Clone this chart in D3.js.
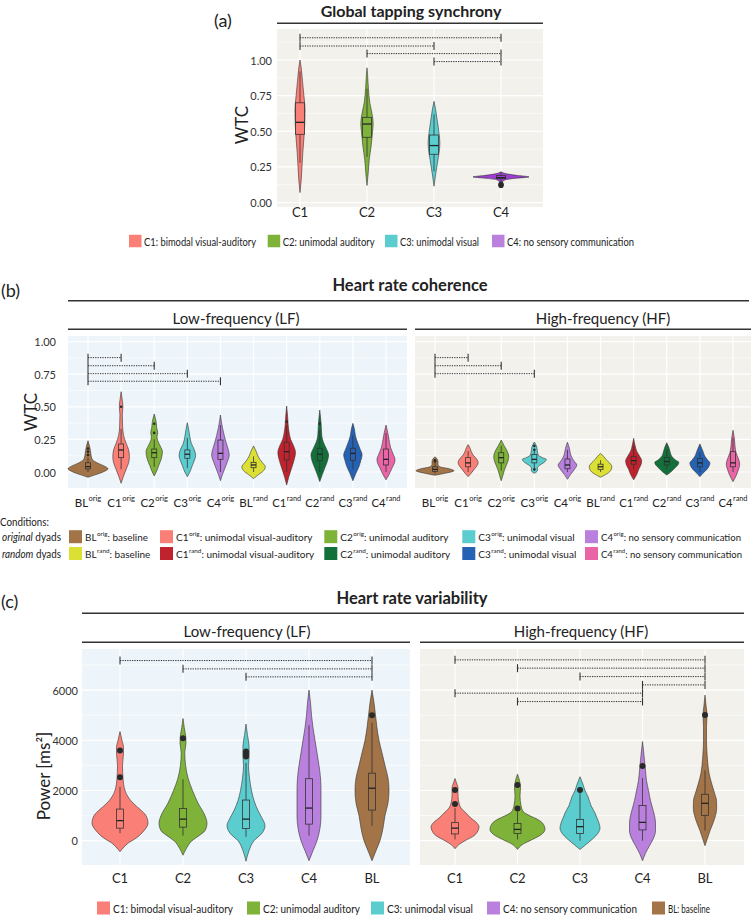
<!DOCTYPE html>
<html><head><meta charset="utf-8">
<script src="https://cdn.jsdelivr.net/npm/d3@7"></script>
<style>body{margin:0;background:#fff}svg{display:block;font-family:Lato,'Open Sans',sans-serif}</style>
</head><body><svg id="c" width="751" height="916"></svg>
<script>
// ---------------- DATA ----------------
// (a) Global tapping synchrony
const tapCategories = ["C1","C2","C3","C4"];
const tapTicks = [0, 0.25, 0.5, 0.75, 1.0];
const tapMinor = [0.125, 0.375, 0.625, 0.875, 1.125];
// density profiles: [value, relative density]
const tapDensity = [
  [[0.07,0],[0.15,0.04],[0.25,0.07],[0.35,0.1],[0.45,0.14],[0.55,0.17],[0.65,0.18],[0.75,0.14],[0.85,0.09],[0.95,0.04],[1.0,0]],
  [[0.12,0],[0.2,0.04],[0.3,0.08],[0.4,0.15],[0.5,0.2],[0.55,0.22],[0.6,0.2],[0.7,0.1],[0.8,0.05],[0.9,0.02],[0.945,0]],
  [[0.115,0],[0.2,0.06],[0.3,0.14],[0.38,0.2],[0.42,0.21],[0.5,0.17],[0.57,0.12],[0.65,0.06],[0.71,0]],
  [[0.11,0],[0.12,0.04],[0.14,0.04],[0.16,0.15],[0.17,0.5],[0.18,1],[0.19,0.6],[0.2,0.25],[0.217,0]]
];
// boxes: [lower whisker, q1, median, q3, upper whisker]
const tapBoxes = [[0.28,0.479,0.563,0.70,0.92],[0.32,0.458,0.551,0.598,0.80],[0.22,0.339,0.40,0.474,0.62],[0.15,0.168,0.175,0.19,0.21]];
const tapOutliers = [[],[],[],[0.12,0.125,0.13]];
const tapBrackets = [["C1","C4",1.156],["C1","C3",1.098],["C2","C4",1.045],["C3","C4",0.989]];
const tapLegend = ["C1: bimodal visual-auditory","C2: unimodal auditory","C3: unimodal visual","C4: no sensory communication"];

// (b) Heart rate coherence
const hrcCategories = ["BLo","C1o","C2o","C3o","C4o","BLr","C1r","C2r","C3r","C4r"];
const hrcLabelBase = ["BL","C1","C2","C3","C4","BL","C1","C2","C3","C4"];
const hrcLabelSup = ["orig","orig","orig","orig","orig","rand","rand","rand","rand","rand"];
const hrcTicks = [0, 0.25, 0.5, 0.75, 1.0];
const hrcMinor = [-0.125, 0.125, 0.375, 0.625, 0.875];
const hrcLFDensity = [
  [[-0.04,0],[-0.02,8],[0,15],[0.025,20],[0.05,15],[0.075,8],[0.1,4],[0.13,3],[0.16,2.5],[0.2,1.5],[0.24,0]],
  [[-0.087,0],[-0.04,2],[0.02,5],[0.07,7.5],[0.117,8.3],[0.17,7.5],[0.22,5],[0.28,2.5],[0.35,1.5],[0.44,1.2],[0.5,1.8],[0.56,1],[0.616,0]],
  [[-0.03,0],[0,2],[0.05,4.5],[0.1,7],[0.156,8.2],[0.2,6],[0.24,3.5],[0.27,2.8],[0.3,3.5],[0.34,2.5],[0.38,2],[0.445,0]],
  [[-0.036,0],[0,2.5],[0.05,5],[0.1,7.5],[0.125,8.3],[0.17,7],[0.22,4],[0.27,2.5],[0.32,1.5],[0.378,0]],
  [[-0.067,0],[-0.02,2],[0.03,4.5],[0.08,7],[0.13,8.8],[0.18,7.5],[0.23,5.5],[0.28,3.8],[0.34,2],[0.437,0]],
  [[-0.05,0],[-0.02,5],[0.01,10],[0.04,11.7],[0.07,9],[0.1,6],[0.13,4],[0.16,2.5],[0.2,0]],
  [[-0.1,0],[-0.04,2],[0.02,4.5],[0.08,7],[0.15,8.8],[0.2,7],[0.25,4],[0.3,2.5],[0.36,1.5],[0.42,1],[0.506,0]],
  [[-0.074,0],[-0.02,2.5],[0.03,5],[0.08,7.5],[0.13,8.8],[0.18,6.5],[0.23,3.5],[0.28,2],[0.35,1.5],[0.4,1],[0.475,0]],
  [[-0.067,0],[-0.01,3],[0.04,6],[0.09,8],[0.13,9.2],[0.18,7],[0.23,4.5],[0.28,2.5],[0.33,1.5],[0.373,0]],
  [[-0.06,0],[-0.02,3],[0.03,6],[0.07,8.5],[0.097,9],[0.14,7],[0.19,4.5],[0.25,3],[0.3,1.8],[0.36,0]]
];
const hrcLFBoxes = [[0,0.023,0.041,0.071,0.11],[0.02,0.11,0.169,0.215,0.33],[0.04,0.11,0.148,0.176,0.25],[0.03,0.105,0.136,0.169,0.26],[0,0.097,0.143,0.245,0.36],[0,0.033,0.054,0.074,0.12],[0,0.092,0.156,0.228,0.36],[0,0.087,0.136,0.182,0.32],[0.02,0.09,0.143,0.182,0.28],[0,0.054,0.097,0.176,0.30]];
const hrcLFOutliers = [[0.13,0.156,0.18],[0.5],[0.30,0.37],[],[],[],[0.386],[0.37],[],[]];
const hrcHFDensity = [
  [[-0.025,0],[-0.01,10],[0.01,19],[0.025,14],[0.04,5],[0.06,3],[0.08,3],[0.1,2],[0.117,0]],
  [[-0.036,0],[-0.01,3],[0.02,6],[0.05,9],[0.07,10],[0.1,8.5],[0.13,5],[0.16,3],[0.19,1.5],[0.21,0]],
  [[-0.067,0],[-0.03,1.5],[0.01,3],[0.05,5],[0.09,7],[0.117,7.5],[0.16,6],[0.2,3],[0.245,0]],
  [[-0.01,0],[0.01,3],[0.03,3],[0.05,5],[0.075,10],[0.097,12],[0.11,8],[0.13,4],[0.16,3],[0.19,2.5],[0.23,0]],
  [[-0.056,0],[-0.02,3],[0.02,7],[0.054,9.3],[0.08,7],[0.11,4.5],[0.14,3],[0.18,2],[0.228,0]],
  [[-0.04,0],[-0.02,5],[0.01,10],[0.04,11.3],[0.07,9],[0.1,5],[0.12,3],[0.143,0]],
  [[-0.06,0],[-0.02,3],[0.02,5],[0.06,7.5],[0.087,8],[0.12,6],[0.16,3],[0.2,1.5],[0.258,0]],
  [[-0.023,0],[0,4],[0.03,8],[0.06,11.5],[0.075,12],[0.09,9],[0.12,5],[0.15,3.5],[0.19,2],[0.225,0]],
  [[-0.036,0],[-0.01,3],[0.02,7],[0.05,9.5],[0.07,10],[0.09,8],[0.12,5],[0.16,3],[0.215,0]],
  [[-0.074,0],[-0.03,3],[0.02,5.5],[0.06,6.7],[0.1,5.5],[0.15,3],[0.2,2],[0.26,1.3],[0.32,0]]
];
const hrcHFBoxes = [[-0.01,0.005,0.02,0.04,0.07],[0,0.04,0.07,0.11,0.16],[0.01,0.07,0.11,0.148,0.2],[0.03,0.07,0.097,0.135,0.16],[0,0.025,0.054,0.1,0.17],[0,0.02,0.04,0.06,0.09],[0.02,0.06,0.087,0.117,0.2],[0.02,0.054,0.08,0.112,0.17],[0,0.04,0.07,0.104,0.15],[0,0.04,0.07,0.156,0.26]];
const hrcHFOutliers = [[0.08,0.09],[],[],[0.02,0.17,0.2],[],[],[],[],[],[]];
const hrcLFBrackets = [["BLo","C1o",0.877],["BLo","C2o",0.815],["BLo","C3o",0.754],["BLo","C4o",0.696]];
const hrcHFBrackets = [["BLo","C1o",0.877],["BLo","C2o",0.815],["BLo","C3o",0.754]];
const hrcLegendRows = ["original","random"];
const hrcLegendText = [": baseline",": unimodal visual-auditory",": unimodal auditory",": unimodal visual",": no sensory communication"];

// (c) Heart rate variability
const hrvCategories = ["C1","C2","C3","C4","BL"];
const hrvTicks = [0, 2000, 4000, 6000];
const hrvMinor = [-1000, 1000, 3000, 5000, 7000];
const hrvLFDensity = [
  [[-440,0],[-250,4],[-100,8],[100,16],[400,24],[700,28],[1000,26],[1250,20],[1500,13],[1750,8],[2000,5],[2500,3],[3000,2.5],[3500,3.5],[3700,3.5],[4000,2],[4350,0]],
  [[-580,0],[-300,3.5],[0,9],[200,16],[400,22],[700,24],[1000,22],[1500,15],[2000,9.5],[2500,5],[3000,2.6],[3500,1.8],[3900,3],[4200,2.6],[4500,1.3],[4870,0]],
  [[-820,0],[-400,3],[0,8],[300,16],[600,19],[900,16],[1200,12],[1600,8],[2000,5.5],[2500,3.5],[3000,2.5],[3400,3.2],[3800,3],[4200,1.5],[4650,0]],
  [[-800,0],[-400,4],[0,8],[500,11],[1000,12],[1500,12],[2000,12],[2500,11.5],[3000,10],[3500,8],[4000,6],[4500,4],[5000,2.5],[5500,1.5],[6000,0]],
  [[-800,0],[-400,4],[0,8],[500,11],[1000,13],[1500,16],[2000,17],[2500,16],[3000,13],[3500,10],[4000,7],[4500,5],[5000,3.5],[5500,2],[6000,0]]
];
const hrvLFBoxes = [[300,500,800,1260,2150],[200,540,860,1280,2450],[150,490,860,1620,3100],[200,660,1300,2470,4600],[590,1220,2090,2690,4700]];
const hrvLFOutliers = [[2530,3590],[4080],[3350,3450,3550],[],[5000]];
const hrvHFDensity = [
  [[-320,0],[-150,4],[0,10],[200,19],[400,23],[550,24],[700,22],[900,16],[1100,11],[1300,6],[1500,4],[1800,3],[2100,3],[2300,1.5],[2480,0]],
  [[-350,0],[-150,5],[50,15],[250,24],[450,27.5],[650,26],[850,20],[1000,12],[1150,6],[1400,3.5],[1800,2.5],[2100,3],[2400,2],[2650,0]],
  [[-350,0],[-150,6],[50,12],[300,18],[500,20],[700,19],[900,17],[1100,15],[1400,11],[1750,8],[2000,5],[2300,2.5],[2550,0]],
  [[-800,0],[-500,3],[-200,7],[100,11],[400,13],[700,13],[1000,12],[1300,10],[1600,8],[2000,6],[2400,4],[2800,3],[3200,2],[3600,1],[3950,0]],
  [[-200,0],[100,2.5],[400,5],[700,8],[1000,10.5],[1300,11.7],[1600,11.5],[1900,9.5],[2300,6.5],[2700,4],[3000,3],[3500,2],[4000,1.5],[4500,1.5],[5000,2],[5400,1],[5800,0]]
];
const hrvHFBoxes = [[50,270,500,720,1300],[50,290,450,690,1150],[0,290,560,850,1900],[0,430,730,1400,2500],[400,1010,1490,1850,2800]];
const hrvHFOutliers = [[1460,2020],[1280,2220],[2020],[2980],[5010]];
const hrvLFBrackets = [["C1","BL",7177],["C2","BL",6846],["C3","BL",6527]];
const hrvHFBrackets = [["C1","BL",7205],["C2","BL",6874],["C3","BL",6539],["C4","BL",6208],["C1","C4",5877],["C2","C4",5543]];
const hrvLegend = ["C1: bimodal visual-auditory","C2: unimodal auditory","C3: unimodal visual","C4: no sensory communication","BL: baseline"];

// ---------------- STYLE / LAYOUT ----------------
const colC1="#FA7F76", colC2="#7EB238", colC3="#5CCDCF", colC4="#B981DD", colBL="#A37448";
const colBLr="#DDE034", colC1r="#C0222E", colC2r="#13703A", colC3r="#2662B3", colC4r="#EA65A5";
const tapViolinColors = [colC1, colC2, colC3, "#9B3FD1"];
const tapLegendColors = [colC1, colC2, colC3, colC4];
const hrcColors = [colBL, colC1, colC2, colC3, colC4, colBLr, colC1r, colC2r, colC3r, colC4r];
const hrvColors = [colC1, colC2, colC3, colC4, colBL];
const bgBlue = "#EEF5FA", bgGrey = "#F2F1EC", ink = "#222", tickInk = "#333";
// legend text widths (layout, to mimic the narrow original typeface)
const tapLegendW = [112, 92, 79, 127];
const hrcLegendW = [[63, 137, 108, 96, 140], [65, 139, 110, 98, 141]];
const hrvLegendW = [120, 97, 86, 134, 42];

const svg = d3.select("#c");

function fit(t, w) {
  const n = t.node().getComputedTextLength();
  if (n > w) t.attr("textLength", w).attr("lengthAdjust", "spacingAndGlyphs");
  return t;
}
function text(g, x, y, s, size, opt = {}) {
  const t = g.append("text").attr("x", x).attr("y", y).attr("font-size", size)
    .attr("fill", opt.fill || ink).attr("text-anchor", opt.anchor || "start")
    .attr("dominant-baseline", opt.baseline || "central");
  if (opt.weight) t.attr("font-weight", opt.weight);
  if (opt.rotate) t.attr("transform", `rotate(${opt.rotate},${x},${y})`);
  t.text(s);
  return t;
}
function supText(g, x, y, base, sup, rest, size, supSize, anchor) {
  const t = g.append("text").attr("x", x).attr("y", y).attr("font-size", size).attr("fill", ink)
    .attr("text-anchor", anchor || "start").attr("dominant-baseline", "central");
  t.append("tspan").text(base);
  t.append("tspan").attr("font-size", supSize).attr("dy", -size * 0.35).attr("dx", 0.5).text(sup);
  if (rest) t.append("tspan").attr("dy", size * 0.35).text(rest);
  return t;
}
function panel(x0, x1, yS, vTop, vBot, fill, majors, minors, xS, cats) {
  const g = svg.append("g");
  const yTop = yS(vTop), yBot = yS(vBot);
  g.append("rect").attr("x", x0).attr("y", yTop).attr("width", x1 - x0).attr("height", yBot - yTop).attr("fill", fill);
  minors.filter(v => v < vTop && v > vBot).forEach(v => g.append("line").attr("x1", x0).attr("x2", x1)
    .attr("y1", yS(v)).attr("y2", yS(v)).attr("stroke", "#fff").attr("stroke-width", 0.6));
  majors.forEach(v => g.append("line").attr("x1", x0).attr("x2", x1)
    .attr("y1", yS(v)).attr("y2", yS(v)).attr("stroke", "#fff").attr("stroke-width", 1.2));
  cats.forEach(c => g.append("line").attr("x1", xS(c)).attr("x2", xS(c))
    .attr("y1", yTop).attr("y2", yBot).attr("stroke", "#fff").attr("stroke-width", 1.2));
  return g;
}
function violins(g, cats, dens, boxes, outs, xS, yS, wS, colors, boxW, ptR) {
  cats.forEach((c, i) => {
    const cx = xS(c);
    const area = d3.area().curve(d3.curveMonotoneY)
      .y(d => yS(d[0])).x0(d => cx - wS(d[1])).x1(d => cx + wS(d[1]));
    g.append("path").attr("d", area(dens[i])).attr("fill", colors[i])
      .attr("stroke", "#333").attr("stroke-width", 0.6);
    const b = boxes[i];
    g.append("line").attr("x1", cx).attr("x2", cx).attr("y1", yS(b[0])).attr("y2", yS(b[1])).attr("stroke", "#333").attr("stroke-width", 0.8);
    g.append("line").attr("x1", cx).attr("x2", cx).attr("y1", yS(b[3])).attr("y2", yS(b[4])).attr("stroke", "#333").attr("stroke-width", 0.8);
    g.append("rect").attr("x", cx - boxW / 2).attr("y", yS(b[3])).attr("width", boxW)
      .attr("height", yS(b[1]) - yS(b[3])).attr("fill", colors[i]).attr("stroke", "#333").attr("stroke-width", 0.8);
    g.append("line").attr("x1", cx - boxW / 2).attr("x2", cx + boxW / 2).attr("y1", yS(b[2])).attr("y2", yS(b[2]))
      .attr("stroke", "#222").attr("stroke-width", 1.3);
    outs[i].forEach(o => g.append("circle").attr("cx", cx).attr("cy", yS(o)).attr("r", ptR).attr("fill", "#2a2a2a"));
  });
}
function brackets(g, list, xS, yS) {
  list.forEach(([a, b, v]) => {
    const y = yS(v), xa = xS(a), xb = xS(b);
    g.append("line").attr("x1", xa).attr("x2", xb).attr("y1", y).attr("y2", y)
      .attr("stroke", "#333").attr("stroke-width", 1).attr("stroke-dasharray", "1.3,1.1");
    [xa, xb].forEach(x => g.append("line").attr("x1", x).attr("x2", x).attr("y1", y - 4).attr("y2", y + 4)
      .attr("stroke", "#333").attr("stroke-width", 1.1));
  });
}
function yTickLabels(g, ticks, yS, xRight, fmt, size) {
  ticks.forEach(v => text(g, xRight, yS(v), fmt(v), size, { anchor: "end", fill: tickInk }));
}
function hline(x1, x2, y, w) {
  svg.append("line").attr("x1", x1).attr("x2", x2).attr("y1", y).attr("y2", y).attr("stroke", "#333").attr("stroke-width", w || 1.6);
}
function swatch(g, x, y, color, s) {
  g.append("rect").attr("x", x).attr("y", y - s / 2).attr("width", s).attr("height", s).attr("fill", color);
}

const G = svg.append("g");

// ================= (a) =================
{
  const xS = d3.scalePoint().domain(tapCategories).range([300, 501]);
  const yS = d3.scaleLinear().domain([0, 1]).range([202.6, 60]);
  const wS = d3.scaleLinear().domain([0, 1]).range([0, 28]);
  const g = panel(277, 543, yS, 1.217, -0.03, bgGrey, tapTicks, tapMinor, xS, tapCategories);
  brackets(g, tapBrackets, xS, yS);
  violins(g, tapCategories, tapDensity, tapBoxes, tapOutliers, xS, yS, wS, tapViolinColors, 9, 2.6);
  yTickLabels(G, tapTicks, yS, 272, d3.format(".2f"), 11);
  tapCategories.forEach(c => text(G, xS(c), 212, c, 13, { anchor: "middle" }));
  text(G, 241, 125, "WTC", 17, { anchor: "middle", rotate: -90 });
  text(G, 214, 20, "(a)", 18);
  text(G, 411, 16.5, "Global tapping synchrony", 16, { anchor: "middle", weight: "bold", baseline: "alphabetic" });
  hline(277, 543, 23.3);
  const lx = [129, 267.7, 385, 492];
  tapLegend.forEach((s, i) => { swatch(G, lx[i], 241, tapLegendColors[i], 12.5); fit(text(G, lx[i] + 15, 241, s, 11), tapLegendW[i]); });
}

// ================= (b) =================
{
  const yS = d3.scaleLinear().domain([0, 1]).range([472, 341.6]);
  const wS = d3.scaleLinear().domain([0, 20]).range([0, 20]);
  const xL = d3.scalePoint().domain(hrcCategories).range([88, 386]);
  const xH = d3.scalePoint().domain(hrcCategories).range([435, 733]);
  const gL = panel(68, 407, yS, 1.043, -0.123, bgBlue, hrcTicks, hrcMinor, xL, hrcCategories);
  const gH = panel(415, 751, yS, 1.043, -0.123, bgGrey, hrcTicks, hrcMinor, xH, hrcCategories);
  brackets(gL, hrcLFBrackets, xL, yS);
  brackets(gH, hrcHFBrackets, xH, yS);
  violins(gL, hrcCategories, hrcLFDensity, hrcLFBoxes, hrcLFOutliers, xL, yS, wS, hrcColors, 5, 1.3);
  violins(gH, hrcCategories, hrcHFDensity, hrcHFBoxes, hrcHFOutliers, xH, yS, wS, hrcColors, 5, 1.3);
  yTickLabels(G, hrcTicks, yS, 56, d3.format(".2f"), 11);
  [xL, xH].forEach(xs => hrcCategories.forEach((c, i) =>
    fit(supText(G, xs(c), 502, hrcLabelBase[i], hrcLabelSup[i], null, 11.5, 7.5, "middle"), 29)));
  text(G, 30, 412, "WTC", 17, { anchor: "middle", rotate: -90 });
  text(G, 1, 290, "(b)", 18);
  text(G, 410, 290.7, "Heart rate coherence", 16.5, { anchor: "middle", weight: "bold", baseline: "alphabetic" });
  hline(68, 749, 300.7);
  text(G, 236, 318, "Low-frequency (LF)", 15, { anchor: "middle" });
  text(G, 603, 318, "High-frequency (HF)", 15, { anchor: "middle" });
  hline(68, 407, 329.3); hline(415, 751, 329.3);
  // legend
  fit(text(G, 0, 521.5, "Conditions:", 10.5), 49);
  const rowsY = [536.7, 553.5];
  hrcLegendRows.forEach((r, k) => {
    const t = G.append("text").attr("x", 61).attr("y", rowsY[k]).attr("font-size", 10.5).attr("fill", ink)
      .attr("text-anchor", "end").attr("dominant-baseline", "central");
    t.append("tspan").attr("font-style", "italic").text(r);
    t.append("tspan").text(" dyads");
    fit(t, 59);
  });
  const lx = [69, 160, 324.3, 462.3, 585];
  for (let k = 0; k < 2; k++) {
    for (let j = 0; j < 5; j++) {
      const i = k * 5 + j;
      swatch(G, lx[j], rowsY[k], hrcColors[i], 13);
      fit(supText(G, lx[j] + 16, rowsY[k], hrcLabelBase[i], hrcLabelSup[i], hrcLegendText[j], 10, 6.3), hrcLegendW[k][j]);
    }
  }
}

// ================= (c) =================
{
  const yS = d3.scaleLinear().domain([0, 2000]).range([840.7, 790.5]);
  const wS = d3.scaleLinear().domain([0, 28]).range([0, 28]);
  const xL = d3.scalePoint().domain(hrvCategories).range([120, 372]);
  const xH = d3.scalePoint().domain(hrvCategories).range([455, 705]);
  const gL = panel(82, 410, yS, 7640, -970, bgBlue, hrvTicks, hrvMinor, xL, hrvCategories);
  const gH = panel(420, 744, yS, 7640, -970, bgGrey, hrvTicks, hrvMinor, xH, hrvCategories);
  brackets(gL, hrvLFBrackets, xL, yS);
  brackets(gH, hrvHFBrackets, xH, yS);
  violins(gL, hrvCategories, hrvLFDensity, hrvLFBoxes, hrvLFOutliers, xL, yS, wS, hrvColors, 7, 3);
  violins(gH, hrvCategories, hrvHFDensity, hrvHFBoxes, hrvHFOutliers, xH, yS, wS, hrvColors, 7, 3);
  yTickLabels(G, hrvTicks, yS, 78, d3.format("d"), 11);
  [xL, xH].forEach(xs => hrvCategories.forEach(c => text(G, xs(c), 878, c, 13, { anchor: "middle" })));
  text(G, 43, 776, "Power [ms²]", 17, { anchor: "middle", rotate: -90 });
  text(G, 1, 601, "(c)", 18);
  text(G, 412, 604, "Heart rate variability", 16.5, { anchor: "middle", weight: "bold", baseline: "alphabetic" });
  hline(82, 744, 613.3);
  text(G, 247, 630.7, "Low-frequency (LF)", 15, { anchor: "middle" });
  text(G, 581, 630.7, "High-frequency (HF)", 15, { anchor: "middle" });
  hline(82, 410, 642.3); hline(420, 744, 642.3);
  const lx = [97, 247, 371, 487, 652];
  hrvLegend.forEach((s, i) => { swatch(G, lx[i], 908, hrvColors[i], 13); fit(text(G, lx[i] + 16, 908, s, 12), hrvLegendW[i]); });
}
</script></body></html>
